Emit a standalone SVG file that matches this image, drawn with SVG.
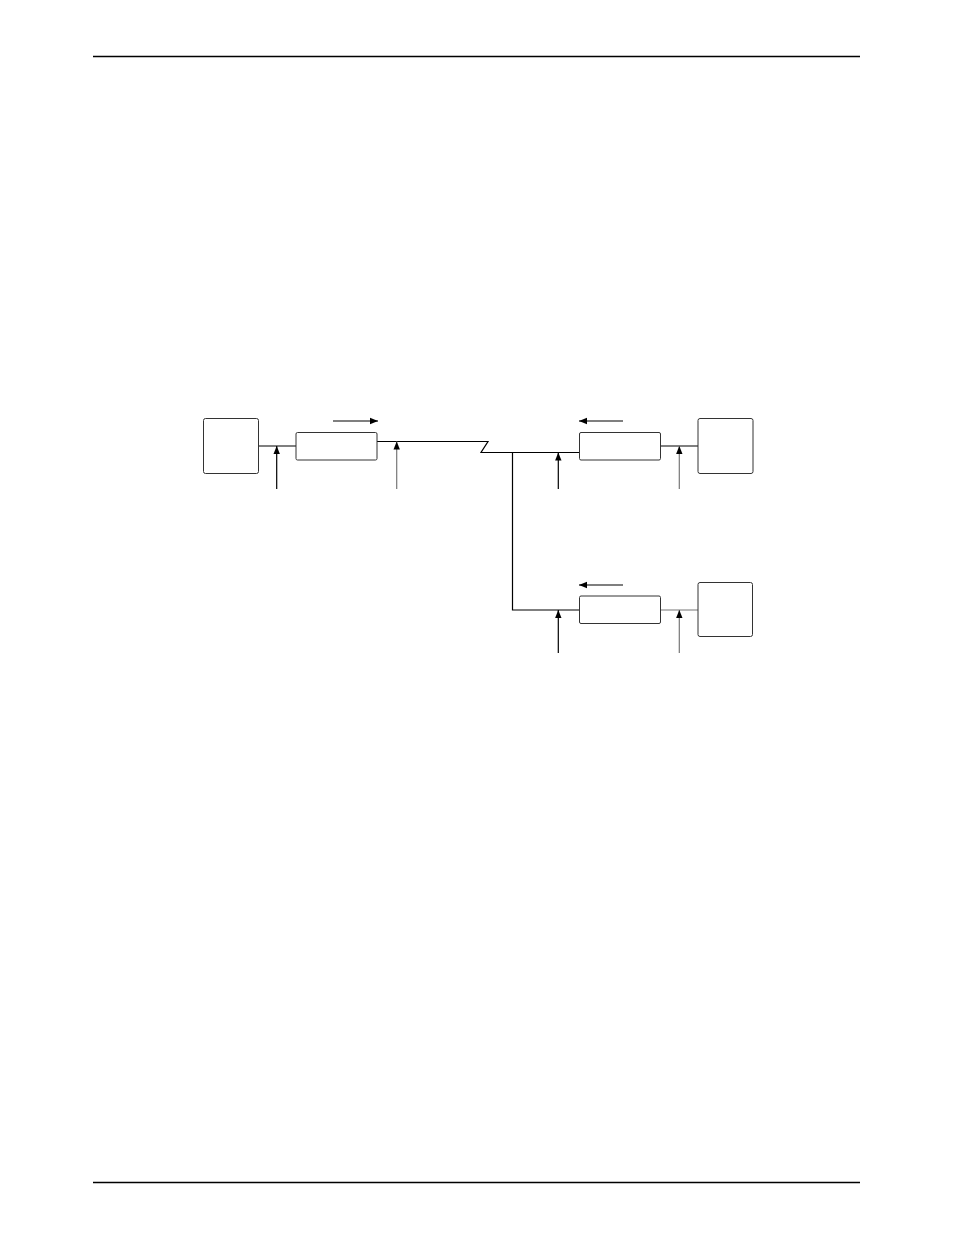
<svg xmlns="http://www.w3.org/2000/svg" width="954" height="1235" viewBox="0 0 954 1235">
<defs>
<marker id="ah" viewBox="0 0 10 10" refX="10" refY="5" markerWidth="10" markerHeight="8" markerUnits="userSpaceOnUse" orient="auto">
<path d="M0,1 L10,5 L0,9 Z" fill="#000"/>
</marker>
</defs>
<style>
.box{fill:#fff;stroke:#333;stroke-width:1}
.ln{fill:none;stroke:#000;stroke-width:1.2}
.gl{fill:none;stroke:#777;stroke-width:1.2}
.rule{stroke:#000;stroke-width:1.5}
</style>
<rect width="954" height="1235" fill="#fff"/>
<line class="rule" x1="93" y1="56.5" x2="860" y2="56.5"/>
<line class="rule" x1="93" y1="1182.5" x2="860" y2="1182.5"/>
<g id="connectors">
<path class="ln" d="M258,446 H296"/>
<path class="ln" d="M377,441.5 H488 L481,452.5 H579"/>
<path class="ln" d="M512.5,452.5 V610 H579"/>
<path class="ln" d="M661,446 H698"/>
<path class="gl" d="M661,610 H698"/>
<path class="ln" d="M333,421 H378" marker-end="url(#ah)"/>
<path class="ln" d="M623,421 H579" marker-end="url(#ah)"/>
<path class="ln" d="M623,585 H579" marker-end="url(#ah)"/>
<path class="ln" d="M276.7,489 V446" marker-end="url(#ah)"/>
<path class="gl" d="M396.7,489 V441.5" marker-end="url(#ah)"/>
<path class="ln" d="M558.3,489 V452.5" marker-end="url(#ah)"/>
<path class="gl" d="M679.3,489 V446" marker-end="url(#ah)"/>
<path class="ln" d="M558.3,653 V610" marker-end="url(#ah)"/>
<path class="gl" d="M679.3,653 V610" marker-end="url(#ah)"/>
</g>
<g id="node-left"><rect class="box" x="203.5" y="418.5" width="55" height="55" rx="2"/></g>
<g id="node-comp1"><rect class="box" x="296" y="432.5" width="81" height="27.5" rx="1.5"/></g>
<g id="node-comp2"><rect class="box" x="579.5" y="432.5" width="81" height="27.5" rx="1.5"/></g>
<g id="node-right1"><rect class="box" x="698" y="418.5" width="55" height="55" rx="2"/></g>
<g id="node-comp3"><rect class="box" x="579.5" y="596" width="81" height="27.5" rx="1.5"/></g>
<g id="node-right2"><rect class="box" x="698" y="582.5" width="54.5" height="54" rx="2"/></g>
</svg>
